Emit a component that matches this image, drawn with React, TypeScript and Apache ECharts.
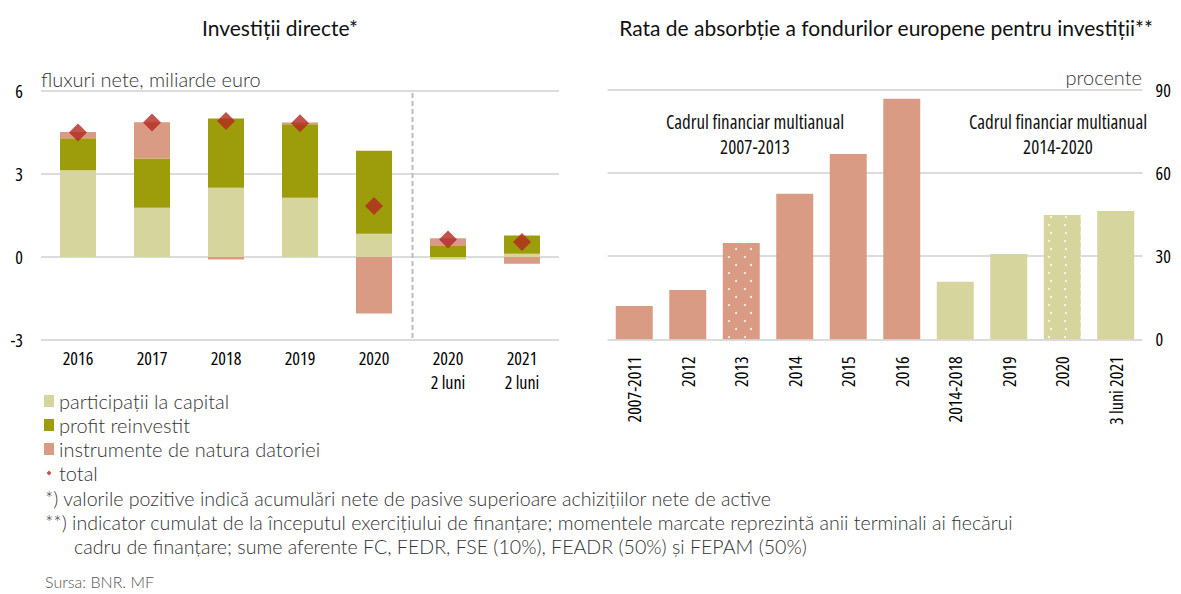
import React, { useEffect, useRef } from "react";
import * as echarts from "echarts";

// ---- Left chart: direct investments (net flows, bn EUR)
const fdiCategories = ["2016", "2017", "2018", "2019", "2020", "2020\n2 luni", "2021\n2 luni"];
const equityCapital = [3.14, 1.78, 2.5, 2.14, 0.84, -0.09, 0.12];
const reinvestedProfit = [1.15, 1.78, 2.51, 2.66, 3.0, 0.4, 0.66];
const debtInstruments = [0.23, 1.31, -0.09, 0.06, -2.04, 0.28, -0.24];
const fdiTotal = [4.5, 4.86, 4.92, 4.83, 1.84, 0.63, 0.54];
const leftTicks = [-3, 0, 3, 6];

// ---- Right chart: absorption rate of EU funds (percent)
const absorptionCategories = ["2007-2011", "2012", "2013", "2014", "2015", "2016", "2014-2018", "2019", "2020", "3 luni 2021"];
const absorptionRate = [12.0, 17.8, 34.8, 52.5, 66.9, 86.8, 20.8, 30.8, 44.9, 46.3];
const absorptionFramework = ["2007-2013", "2007-2013", "2007-2013", "2007-2013", "2007-2013", "2007-2013", "2014-2020", "2014-2020", "2014-2020", "2014-2020"];
const terminalYears = ["2013", "2020"];
const rightTicks = [0, 30, 60, 90];

const C_CAP = "#D5D59D";
const C_PROFIT = "#9D9D0C";
const C_DEBT = "#DA9B85";
const C_TOTAL = "#B2281E";
const GRID = "#DCDCDC";
const NARROW = "'Open Sans';font-stretch:extra-condensed";
const LIGHT = "Lato, 'Open Sans', sans-serif";
const TITLE = "Lato, 'Open Sans', sans-serif";

export default function App() {
  const ref = useRef<HTMLDivElement>(null);
  useEffect(() => {
    document.body.style.margin = "0";
    const chart = echarts.init(ref.current!, null, { renderer: "svg" });
    const dotDecal = {
      symbol: "circle",
      symbolSize: 1,
      color: "rgba(255,255,255,0.9)",
      dashArrayX: [[2, 13], [0, 7.5, 2, 5.5]],
      dashArrayY: [2, 5.5],
      rotation: 0,
    };
    const narrowLabel = { fontFamily: NARROW, fontSize: 18, fontWeight: 500, color: "#000" };
    const lightText = { fontFamily: LIGHT, fontSize: 19.6, fontWeight: 300, fill: "#333" };
    const txt = (x: number, y: number, text: string, extra: any) => ({
      type: "text",
      x,
      y,
      style: { text, verticalAlign: "middle", ...extra },
    });
    const option: any = {
      animation: false,
      backgroundColor: "#ffffff",
      textStyle: { fontFamily: TITLE },
      grid: [
        { left: 41, top: 91, width: 518, height: 249 },
        { left: 607.5, top: 90, width: 535, height: 249.3 },
      ],
      xAxis: [
        {
          type: "category",
          gridIndex: 0,
          data: fdiCategories,
          axisLine: { show: false, onZero: false },
          axisTick: { show: false },
          axisLabel: { ...narrowLabel, interval: 0, lineHeight: 24, margin: 6 },
        },
        {
          type: "category",
          gridIndex: 1,
          data: absorptionCategories,
          axisLine: { show: false, onZero: false },
          axisTick: { show: false },
          axisLabel: { ...narrowLabel, interval: 0, rotate: 90, margin: 17 },
        },
      ],
      yAxis: [
        {
          type: "value",
          gridIndex: 0,
          min: leftTicks[0],
          max: leftTicks[leftTicks.length - 1],
          interval: 3,
          axisLine: { show: false },
          axisTick: { show: false },
          splitLine: { lineStyle: { color: GRID, width: 2 } },
          axisLabel: { ...narrowLabel, margin: 18 },
        },
        {
          type: "value",
          gridIndex: 1,
          position: "right",
          min: rightTicks[0],
          max: rightTicks[rightTicks.length - 1],
          interval: 30,
          axisLine: { show: false },
          axisTick: { show: false },
          splitLine: { lineStyle: { color: GRID, width: 2 } },
          axisLabel: { ...narrowLabel, margin: 13 },
        },
      ],
      legend: {
        orient: "vertical",
        left: 44,
        top: 391,
        padding: 0,
        itemWidth: 10,
        itemHeight: 12,
        itemGap: 4,
        textStyle: { fontFamily: LIGHT, fontSize: 20, fontWeight: 300, color: "#333", lineHeight: 20 },
        data: [
          { name: "participații la capital", icon: "rect" },
          { name: "profit reinvestit", icon: "rect" },
          { name: "instrumente de natura datoriei", icon: "rect" },
          { name: "total", icon: "path://M0,0M12,12M6,3L9,6L6,9L3,6Z" },
        ],
      },
      series: [
        {
          name: "participații la capital",
          type: "bar",
          stack: "fdi",
          xAxisIndex: 0,
          yAxisIndex: 0,
          barWidth: 36,
          itemStyle: { color: C_CAP },
          data: equityCapital,
        },
        {
          name: "profit reinvestit",
          type: "bar",
          stack: "fdi",
          xAxisIndex: 0,
          yAxisIndex: 0,
          barWidth: 36,
          itemStyle: { color: C_PROFIT },
          data: reinvestedProfit,
        },
        {
          name: "instrumente de natura datoriei",
          type: "bar",
          stack: "fdi",
          xAxisIndex: 0,
          yAxisIndex: 0,
          barWidth: 36,
          itemStyle: { color: C_DEBT },
          data: debtInstruments,
        },
        {
          name: "total",
          type: "scatter",
          xAxisIndex: 0,
          yAxisIndex: 0,
          symbol: "diamond",
          symbolSize: 18,
          itemStyle: { color: C_TOTAL },
          z: 5,
          data: fdiTotal,
        },
        {
          name: "rata de absorbție",
          type: "bar",
          xAxisIndex: 1,
          yAxisIndex: 1,
          barWidth: 37,
          data: absorptionRate.map((v, i) => {
            const col = absorptionFramework[i] === "2007-2013" ? C_DEBT : C_CAP;
            const isTerminal = terminalYears.includes(absorptionCategories[i]);
            return {
              value: v,
              itemStyle: isTerminal ? { color: col, decal: dotDecal } : { color: col },
            };
          }),
        },
      ],
      graphic: {
        elements: [
          txt(280, 27, "Investiții directe*", { fontFamily: TITLE, fontSize: 21, fill: "#111", align: "center" }),
          txt(886, 27, "Rata de absorbție a fondurilor europene pentru investiții**", { fontFamily: TITLE, fontSize: 21, fill: "#111", align: "center" }),
          txt(41, 79, "fluxuri nete, miliarde euro", { ...lightText, fontSize: 20, align: "left" }),
          txt(1142, 77, "procente", { ...lightText, fontSize: 20, align: "right" }),
          txt(755, 122, "Cadrul financiar multianual", { fontFamily: NARROW, fontSize: 19, fill: "#111", align: "center" }),
          txt(755, 147, "2007-2013", { fontFamily: NARROW, fontSize: 19, fill: "#111", align: "center" }),
          txt(1058, 122, "Cadrul financiar multianual", { fontFamily: NARROW, fontSize: 19, fill: "#111", align: "center" }),
          txt(1058, 147, "2014-2020", { fontFamily: NARROW, fontSize: 19, fill: "#111", align: "center" }),
          txt(45, 498, "*) valorile pozitive indică acumulări nete de pasive superioare achizițiilor nete de active", lightText),
          txt(45, 522, "**) indicator cumulat de la începutul exercițiului de finanțare; momentele marcate reprezintă anii terminali ai fiecărui", lightText),
          txt(74, 546, "cadru de finanțare; sume aferente FC, FEDR, FSE (10%), FEADR (50%) și FEPAM (50%)", lightText),
          txt(45, 581, "Sursa: BNR. MF", { ...lightText, fontSize: 16, fill: "#555" }),
        ],
      },
    };
    chart.setOption(option);
    const a = chart.convertToPixel({ xAxisIndex: 0 }, 4) as number;
    const b = chart.convertToPixel({ xAxisIndex: 0 }, 5) as number;
    const sepX = Math.round((a + b) / 2) + 1.5;
    const top = chart.convertToPixel({ yAxisIndex: 0 }, 6) as number;
    const bottom = chart.convertToPixel({ yAxisIndex: 0 }, -3) as number;
    chart.setOption({
      graphic: {
        elements: [
          {
            id: "sep",
            type: "line",
            shape: { x1: sepX, y1: top + 2, x2: sepX, y2: bottom },
            style: { stroke: "#BDBDBD", lineWidth: 2, lineDash: [5, 3] },
            z: 1,
          },
        ],
      },
    });
    return () => chart.dispose();
  }, []);
  return <div ref={ref} style={{ width: 1181, height: 594 }} />;
}
